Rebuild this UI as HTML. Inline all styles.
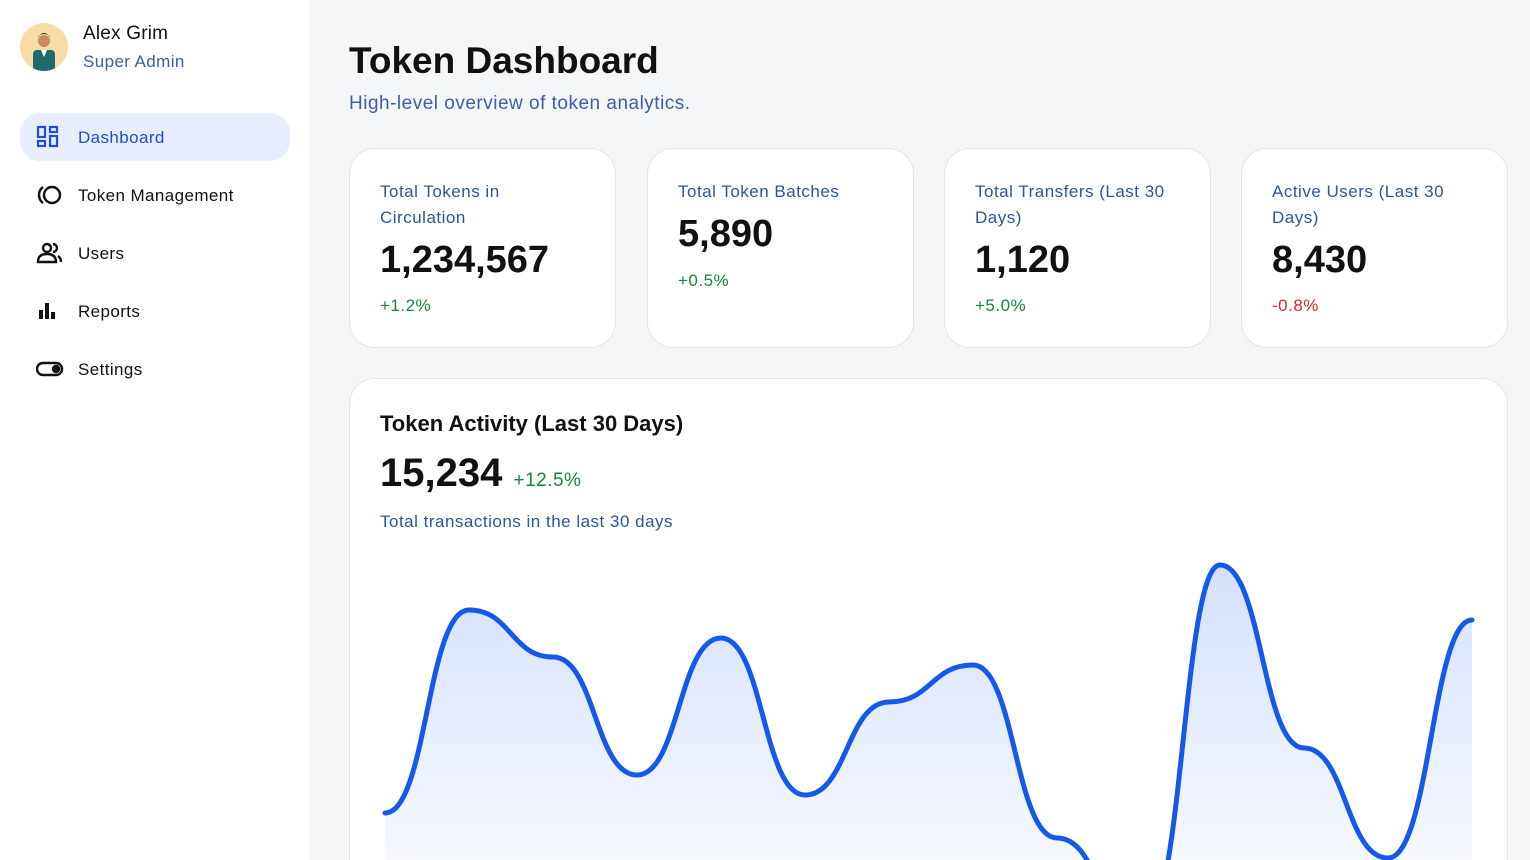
<!DOCTYPE html>
<html><head><meta charset="utf-8"><style>
*{box-sizing:border-box;margin:0;padding:0}
html,body{width:1530px;height:860px;overflow:hidden}
body{font-family:"Liberation Sans",sans-serif;background:#f5f6f8;position:relative}
.side{position:absolute;left:0;top:0;width:310px;height:860px;background:#fff}
.av{position:absolute;left:20px;top:23px;width:48px;height:48px;border-radius:50%;background:#f9dba4;overflow:hidden}
.name{position:absolute;left:83px;top:23px;font-size:19px;color:#111;letter-spacing:0.2px}
.role{position:absolute;left:83px;top:52px;font-size:17px;color:#3b5ea8;letter-spacing:0.4px}
.nav{position:absolute;left:20px;width:270px;height:48px;border-radius:20px;font-size:17px;color:#111;letter-spacing:0.4px}
.nav span{position:absolute;left:58px;top:15px}
.nav svg{position:absolute;left:16px;top:12px}
.act{background:#e6eeff;color:#1d4ed8}
h1{position:absolute;left:349px;top:40px;font-size:37px;font-weight:bold;color:#111}
.sub{position:absolute;left:349px;top:93px;font-size:19px;color:#3b5ea8;letter-spacing:0.5px}
.card{position:absolute;top:148px;width:267px;height:200px;background:#fff;border:1px solid #e3e5ea;border-radius:26px}
.card .t{position:absolute;left:30px;top:30px;font-size:17px;line-height:26px;color:#2f5597;width:205px;letter-spacing:0.5px}
.card .v{position:absolute;left:30px;font-size:38px;font-weight:bold;color:#111}
.card .c{position:absolute;left:30px;font-size:17px;letter-spacing:0.5px}
.g{color:#16873a}.r{color:#dc2626}
.chart{position:absolute;left:349px;top:378px;width:1159px;height:482px;background:#fff;border:1px solid #e3e5ea;border-bottom:none;border-radius:26px 26px 0 0;overflow:hidden}
</style></head><body>
<div class="side">
<div class="av"><svg width="48" height="48"><circle cx="24" cy="18" r="6" fill="#c98b5f"/><path d="M18 14 Q24 6 30 14 L30 13 Q24 9 18 13Z" fill="#222"/><rect x="13" y="27" width="22" height="21" rx="4" fill="#1f6b6b"/><path d="M21 27 L24 34 L27 27Z" fill="#fff"/></svg></div>
<div class="name">Alex Grim</div><div class="role">Super Admin</div>
<div class="nav act" style="top:113px"><svg width="24" height="24" fill="none" stroke="#1d4ed8" stroke-width="2.2"><rect x="2" y="2" width="7" height="10"/><rect x="14" y="2" width="7" height="5"/><rect x="14" y="11" width="7" height="10"/><rect x="2" y="16" width="7" height="5"/></svg><span>Dashboard</span></div>
<div class="nav" style="top:171px"><svg width="28" height="24" fill="none" stroke="#111" stroke-width="2.4"><circle cx="16" cy="12" r="8"/><path d="M7 4 A10 10 0 0 0 7 20"/></svg><span>Token Management</span></div>
<div class="nav" style="top:229px"><svg width="28" height="24" fill="none" stroke="#111" stroke-width="2.4"><circle cx="11" cy="7" r="4"/><path d="M2 21 Q2 13 11 13 Q20 13 20 21Z"/><path d="M17 3 A4 4 0 0 1 17 11 M22 15 Q25 17 25 21"/></svg><span>Users</span></div>
<div class="nav" style="top:287px"><svg width="24" height="24" fill="#111"><rect x="3" y="11" width="4" height="9"/><rect x="9" y="4" width="4" height="16"/><rect x="15" y="13" width="4" height="7"/></svg><span>Reports</span></div>
<div class="nav" style="top:345px"><svg width="28" height="24" fill="none" stroke="#111" stroke-width="2.4"><rect x="1" y="6" width="25" height="12" rx="6"/><circle cx="20" cy="12" r="3" fill="#111"/></svg><span>Settings</span></div>
</div>
<h1>Token Dashboard</h1>
<div class="sub">High-level overview of token analytics.</div>
<div class="card" style="left:349px"><div class="t" style="width:150px">Total Tokens in Circulation</div><div class="v" style="top:90px">1,234,567</div><div class="c g" style="top:147px">+1.2%</div></div>
<div class="card" style="left:647px"><div class="t">Total Token Batches</div><div class="v" style="top:64px">5,890</div><div class="c g" style="top:122px">+0.5%</div></div>
<div class="card" style="left:944px"><div class="t">Total Transfers (Last 30 Days)</div><div class="v" style="top:90px">1,120</div><div class="c g" style="top:147px">+5.0%</div></div>
<div class="card" style="left:1241px"><div class="t">Active Users (Last 30 Days)</div><div class="v" style="top:90px">8,430</div><div class="c r" style="top:147px">-0.8%</div></div>
<div class="chart">
<div style="position:absolute;left:30px;top:32px;font-size:22px;font-weight:bold;color:#111">Token Activity (Last 30 Days)</div>
<div style="position:absolute;left:30px;top:72px;font-size:40px;font-weight:bold;color:#111">15,234 <span style="font-size:19px;font-weight:normal;color:#16873a;letter-spacing:0.5px">+12.5%</span></div>
<div style="position:absolute;left:30px;top:133px;font-size:17px;color:#2f5597;letter-spacing:0.5px">Total transactions in the last 30 days</div>
</div>
<svg width="1530" height="860" style="position:absolute;left:0;top:0;overflow:hidden">
<defs><linearGradient id="gr" x1="0" y1="560" x2="0" y2="860" gradientUnits="userSpaceOnUse"><stop offset="0" stop-color="#2563eb" stop-opacity="0.2"/><stop offset="1" stop-color="#2563eb" stop-opacity="0.04"/></linearGradient>
<clipPath id="cp"><rect x="0" y="0" width="1530" height="860"/></clipPath></defs>
<g clip-path="url(#cp)">
<path d="M385,813 C427,813 427,610 469,610 C511,610 511,657 553,657 C595,657 595,775 637,775 C679,775 679,638 721,638 C763,638 763,795 805,795 C847,795 847,702 889,702 C931,702 931,665 973,665 C1015,665 1015,838 1057,838 C1099,838 1099,930 1141,930 C1183,930 1183,565 1220,565 C1262,565 1262,748 1304,748 C1346,748 1346,858 1388,858 C1430,858 1432,620 1472,620 L1472,860 L385,860Z" fill="url(#gr)"/>
<path d="M385,813 C427,813 427,610 469,610 C511,610 511,657 553,657 C595,657 595,775 637,775 C679,775 679,638 721,638 C763,638 763,795 805,795 C847,795 847,702 889,702 C931,702 931,665 973,665 C1015,665 1015,838 1057,838 C1099,838 1099,930 1141,930 C1183,930 1183,565 1220,565 C1262,565 1262,748 1304,748 C1346,748 1346,858 1388,858 C1430,858 1432,620 1472,620" fill="none" stroke="#1559ea" stroke-width="5" stroke-linecap="round"/>
</g>
</svg>
</body></html>
